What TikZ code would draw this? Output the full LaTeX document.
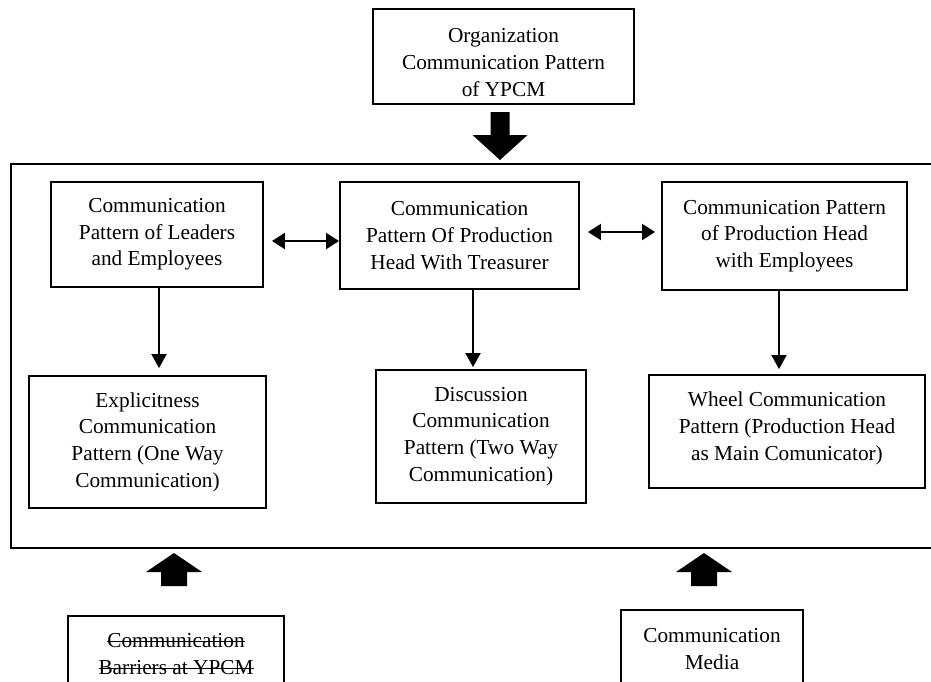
\documentclass[tikz,border=0pt]{standalone}
\usepackage{fontspec}
\setmainfont{Liberation Serif}
\usetikzlibrary{arrows.meta}

% struck-through text: a thin rule laid over the word
\newsavebox{\strikebox}
\newcommand{\struckout}[1]{%
  \sbox{\strikebox}{#1}%
  \rlap{\rule[0.24em]{\wd\strikebox}{0.05em}}\usebox{\strikebox}}

\begin{document}
\begin{tikzpicture}[x=1pt,y=-1pt,
  boxtext/.style={align=center, inner sep=0pt,
    font=\fontsize{21.3}{26.7}\selectfont},
  box/.style={draw, line width=1.9pt, boxtext},
  panelbox/.style={draw, line width=2pt, inner sep=0pt},
  link/.style={line width=2pt, -{Triangle[length=14pt,width=15pt]}},
  dbllink/.style={line width=2pt,
    {Triangle[length=13pt,width=16pt]}-{Triangle[length=13pt,width=16pt]}},
  blockdown/.pic={\fill (-9.5,0) -- (9.5,0) -- (9.5,23) -- (27.5,23) -- (0,48)
    -- (-27.5,23) -- (-9.5,23) -- cycle;},
  blockup/.pic={\fill (-13,0) -- (13,0) -- (13,-14) -- (28,-14) -- (0,-33)
    -- (-28,-14) -- (-13,-14) -- cycle;}]
\useasboundingbox (0,0) rectangle (931,681);
\clip (0,0) rectangle (931,681);

% outer panel (runs past the right edge)
\node[panelbox, minimum width=939pt, minimum height=384pt] (panel) at (480.5,356) {};

% source box on top (its text sits a little low)
\node[box, minimum width=261pt, minimum height=95pt,
  label={[boxtext, yshift=-6pt]center:{Organization\\Communication Pattern\\of YPCM}}]
  (org) at (503.5,56.5) {};

% first row
\node[box, minimum width=212pt, minimum height=105pt] (lead) at (157,234.5)
  {Communication\\Pattern of Leaders\\and Employees};
\node[box, minimum width=239pt, minimum height=107pt] (treas) at (459.5,235.5)
  {Communication\\Pattern Of Production\\Head With Treasurer};
\node[box, minimum width=245pt, minimum height=108pt] (emp) at (784.5,236)
  {Communication Pattern\\of Production Head\\with Employees};

% second row
\node[box, minimum width=237pt, minimum height=132pt] (expl) at (147.5,442)
  {Explicitness\\Communication\\Pattern (One Way\\Communication)};
\node[box, minimum width=210pt, minimum height=133pt] (disc) at (481,436.5)
  {Discussion\\Communication\\Pattern (Two Way\\Communication)};
\node[box, minimum width=276pt, minimum height=113pt,
  label={[boxtext, yshift=3pt]center:{Wheel Communication\\Pattern (Production Head\\as Main Comunicator)}}]
  (wheel) at (787,431.5) {};

% inputs below the panel
\node[box, minimum width=216pt, minimum height=76pt] (barr) at (176,654)
  {\struckout{Communication}\\\struckout{Barriers at YPCM}};
\node[box, minimum width=182pt, minimum height=78pt] (media) at (712,649)
  {Communication\\Media};

% block arrows
\pic at (500,112) {blockdown};
\pic at (174,586) {blockup};
\pic at (704,586) {blockup};

% horizontal two-way links
\coordinate (ab) at (0,241);
\coordinate (bc) at (0,232);
\draw[dbllink] ([xshift=8pt]lead.east |- ab) -- (treas.west |- ab);
\draw[dbllink] ([xshift=8pt]treas.east |- bc) -- ([xshift=-6pt]emp.west |- bc);

% vertical links
\coordinate (x1) at (159,0);
\coordinate (x2) at (473,0);
\coordinate (x3) at (779,0);
\draw[link] (lead.south -| x1) -- ([yshift=7pt]expl.north -| x1);
\draw[link] (treas.south -| x2) -- ([yshift=2pt]disc.north -| x2);
\draw[link] (emp.south -| x3) -- ([yshift=5pt]wheel.north -| x3);
\end{tikzpicture}
\end{document}
